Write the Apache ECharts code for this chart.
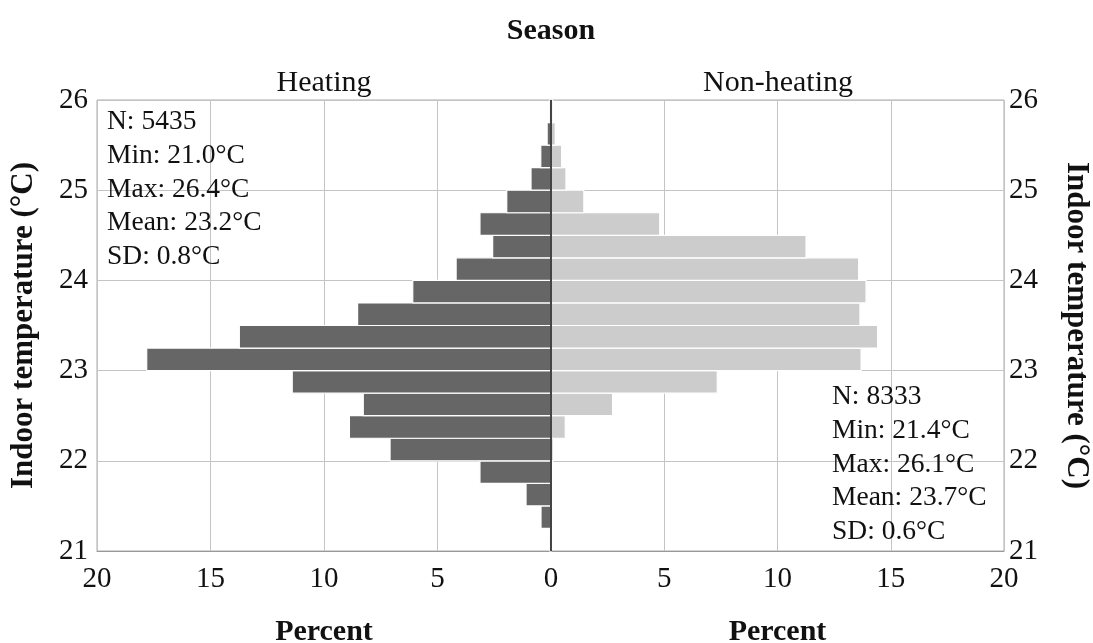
<!DOCTYPE html>
<html>
<head>
<meta charset="utf-8">
<title>Indoor temperature by season</title>
<script src="https://cdn.jsdelivr.net/npm/echarts@6/dist/echarts.min.js"></script>
<style>
  html, body { margin: 0; padding: 0; background: #fff; }
  #chart { width: 1093px; height: 643px; }
</style>
</head>
<body>
<div id="chart"></div>
<script>
// Histogram bin edges (°C), 0.25 °C bins from 21 to 26
const binEdges = [21.00, 21.25, 21.50, 21.75, 22.00, 22.25, 22.50, 22.75, 23.00, 23.25,
                  23.50, 23.75, 24.00, 24.25, 24.50, 24.75, 25.00, 25.25, 25.50, 25.75, 26.00];

// Percent of readings per bin, bottom bin first
const heatingPct = [0.05, 0.44, 1.10, 3.13, 7.09, 8.88, 8.27, 11.40, 17.81, 13.73,
                    8.52, 6.09, 4.18, 2.57, 3.13, 1.95, 0.88, 0.45, 0.17, 0.05];
const nonHeatingPct = [0.00, 0.00, 0.00, 0.05, 0.10, 0.63, 2.72, 7.34, 13.69, 14.42,
                       13.64, 13.91, 13.58, 11.26, 4.80, 1.45, 0.66, 0.47, 0.19, 0.08];

// Axis ticks
const tempTicks = [21, 22, 23, 24, 25, 26];
const percentTicks = [0, 5, 10, 15, 20];

// Panel and summary texts
const seasonTitle = 'Season';
const panelNames = ['Heating', 'Non-heating'];
const heatingStats = ['N: 5435', 'Min: 21.0°C', 'Max: 26.4°C', 'Mean: 23.2°C', 'SD: 0.8°C'];
const nonHeatingStats = ['N: 8333', 'Min: 21.4°C', 'Max: 26.1°C', 'Mean: 23.7°C', 'SD: 0.6°C'];

const SERIF = '"Liberation Serif", "Times New Roman", serif';
const TXT = '#111111';

function binRows(values) {
  return values.map((v, i) => [binEdges[i], binEdges[i + 1], v]);
}

function barRenderer(fillColor) {
  return function (params, api) {
    const lo = api.value(0), hi = api.value(1), v = api.value(2);
    const a = api.coord([0, hi]);
    const b = api.coord([v, lo]);
    return {
      type: 'rect',
      shape: {
        x: Math.min(a[0], b[0]),
        y: a[1],
        width: Math.abs(b[0] - a[0]),
        height: b[1] - a[1]
      },
      style: { fill: fillColor, stroke: '#ffffff', lineWidth: 1.2 }
    };
  };
}

const chart = echarts.init(document.getElementById('chart'), null, { renderer: 'canvas' });

const gridTop = 100, gridBottom = 92;
const commonSplit = { show: true, lineStyle: { color: '#c4c4c4', width: 1 } };

function statsGraphics(lines, x, y0, step) {
  return lines.map((t, i) => ({
    type: 'text',
    x: x,
    y: y0 + i * step,
    z: 10,
    style: {
      text: t,
      font: '27.5px ' + SERIF,
      fill: TXT,
      align: 'left',
      verticalAlign: 'middle'
    }
  }));
}

const tickLabel = { fontFamily: SERIF, fontSize: 29, color: TXT };
const axisTitle = { fontFamily: SERIF, fontSize: 30, fontWeight: 'bold', color: TXT };

const option = {
  backgroundColor: '#ffffff',
  animation: false,
  grid: [
    { left: 97, top: gridTop, width: 454, bottom: gridBottom, containLabel: false, outerBoundsMode: 'none',
      show: true, borderColor: '#aaaaaa', borderWidth: 1 },
    { left: 551, top: gridTop, right: 89, bottom: gridBottom, containLabel: false, outerBoundsMode: 'none',
      show: true, borderColor: '#aaaaaa', borderWidth: 1 }
  ],
  xAxis: [
    {
      gridIndex: 0, type: 'value', inverse: true,
      min: percentTicks[0], max: percentTicks[percentTicks.length - 1], interval: 5,
      axisLine: { show: true, lineStyle: { color: '#999999' } },
      axisTick: { show: false },
      axisLabel: Object.assign({ margin: 14 }, tickLabel),
      splitLine: commonSplit,
      name: 'Percent', nameLocation: 'middle', nameGap: 66,
      nameTextStyle: axisTitle
    },
    {
      gridIndex: 1, type: 'value',
      min: percentTicks[0], max: percentTicks[percentTicks.length - 1], interval: 5,
      axisLine: { show: true, lineStyle: { color: '#999999' } },
      axisTick: { show: false },
      axisLabel: Object.assign({ margin: 14, showMinLabel: false }, tickLabel),
      splitLine: commonSplit,
      name: 'Percent', nameLocation: 'middle', nameGap: 66,
      nameTextStyle: axisTitle
    }
  ],
  yAxis: [
    {
      gridIndex: 0, type: 'value', position: 'left',
      min: tempTicks[0], max: tempTicks[tempTicks.length - 1], interval: 1,
      axisLine: { show: true, lineStyle: { color: '#888888' } },
      axisTick: { show: false },
      axisLabel: Object.assign({ margin: 9 }, tickLabel),
      splitLine: commonSplit,
      name: 'Indoor temperature (°C)', nameLocation: 'middle', nameRotate: 90, nameGap: 58,
      nameTextStyle: Object.assign({}, axisTitle, { fontSize: 31 })
    },
    {
      gridIndex: 1, type: 'value', position: 'right',
      min: tempTicks[0], max: tempTicks[tempTicks.length - 1], interval: 1,
      axisLine: { show: true, lineStyle: { color: '#888888' } },
      axisTick: { show: false },
      axisLabel: Object.assign({ margin: 5 }, tickLabel),
      splitLine: commonSplit,
      name: 'Indoor temperature (°C)', nameLocation: 'middle', nameRotate: -90, nameGap: 57,
      nameTextStyle: Object.assign({}, axisTitle, { fontSize: 31 })
    }
  ],
  series: [
    {
      name: panelNames[0], type: 'custom', xAxisIndex: 0, yAxisIndex: 0,
      renderItem: barRenderer('#666666'),
      encode: { x: 2, y: [0, 1] },
      data: binRows(heatingPct),
      z: 2
    },
    {
      name: panelNames[1], type: 'custom', xAxisIndex: 1, yAxisIndex: 1,
      renderItem: barRenderer('#cccccc'),
      encode: { x: 2, y: [0, 1] },
      data: binRows(nonHeatingPct),
      z: 2,
      markLine: {
        silent: true, symbol: 'none', label: { show: false },
        lineStyle: { color: '#444444', width: 2, type: 'solid' },
        data: [{ xAxis: 0 }],
        z: 5
      }
    }
  ],
  graphic: [
    {
      type: 'text', x: 551, y: 31,
      style: { text: seasonTitle, font: 'bold 30px ' + SERIF, fill: TXT, align: 'center', verticalAlign: 'middle' }
    },
    {
      type: 'text', x: 324, y: 83,
      style: { text: panelNames[0], font: '30px ' + SERIF, fill: TXT, align: 'center', verticalAlign: 'middle' }
    },
    {
      type: 'text', x: 778, y: 83,
      style: { text: panelNames[1], font: '30px ' + SERIF, fill: TXT, align: 'center', verticalAlign: 'middle' }
    }
  ]
    .concat(statsGraphics(heatingStats, 107, 122, 33.75))
    .concat(statsGraphics(nonHeatingStats, 832, 397, 33.75))
};

chart.setOption(option);
</script>
</body>
</html>
